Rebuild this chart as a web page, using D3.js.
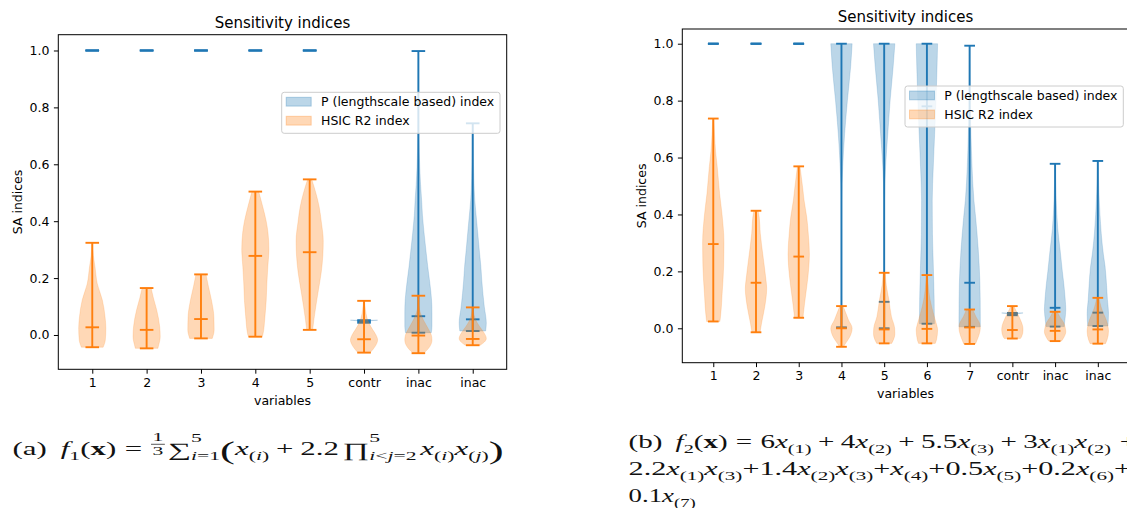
<!DOCTYPE html>
<html>
<head>
<meta charset="utf-8">
<script src="https://cdn.jsdelivr.net/npm/d3@7"></script>
<style>
  body { margin: 0; background: #fff; }
  svg { display: block; }
</style>
</head>
<body>
<svg id="fig" width="1127" height="508"></svg>
<script>
"use strict";

// ---- data ----
var yTicks = [0.0, 0.2, 0.4, 0.6, 0.8, 1.0];
var legendLabels = ["P (lengthscale based) index", "HSIC R2 index"];

var catsA = ["1", "2", "3", "4", "5", "contr", "inac", "inac"];
// [min, mid, max]
var pStatsA = [[1, 1, 1], [1, 1, 1], [1, 1, 1], [1, 1, 1], [1, 1, 1],
    [0.043, 0.048, 0.052], [0.008, 0.066, 0.998], [0.014, 0.055, 0.744]];
// body outline: [value, relative half width]
var pBodyA = [[], [], [], [], [],
    [[0.043, 0.05], [0.048, 0.2], [0.052, 1.0]],
    [[0.008, 0.95], [0.03, 1.0], [0.08, 1.0], [0.123, 0.97], [0.18, 0.85], [0.24, 0.69], [0.3, 0.55],
     [0.358, 0.42], [0.42, 0.3], [0.474, 0.24], [0.53, 0.16], [0.59, 0.1], [0.7, 0.04], [0.85, 0.02], [0.998, 0.01]],
    [[0.014, 0.95], [0.042, 1.0], [0.1, 0.85], [0.19, 0.67], [0.24, 0.6], [0.3, 0.48], [0.358, 0.37],
     [0.42, 0.25], [0.474, 0.15], [0.55, 0.08], [0.65, 0.04], [0.744, 0.02]]];
var hStatsA = [[-0.043, 0.027, 0.324], [-0.047, 0.018, 0.165], [-0.012, 0.056, 0.213], [-0.006, 0.278, 0.504],
    [0.018, 0.291, 0.547], [-0.062, -0.015, 0.12], [-0.064, -0.002, 0.138], [-0.036, -0.014, 0.097]];
var hBodyA = [
    [[-0.043, 0.8], [-0.018, 0.96], [0.024, 1.0], [0.064, 0.94], [0.123, 0.74], [0.18, 0.37], [0.24, 0.2], [0.28, 0.08], [0.324, 0.03]],
    [[-0.047, 0.83], [-0.041, 0.86], [-0.006, 1.0], [0.03, 0.96], [0.088, 0.74], [0.13, 0.5], [0.165, 0.33]],
    [[-0.012, 0.83], [0.018, 0.97], [0.064, 0.95], [0.123, 0.77], [0.17, 0.55], [0.213, 0.37]],
    [[-0.006, 0.5], [0.0, 0.55], [0.06, 0.7], [0.12, 0.8], [0.18, 0.85], [0.24, 0.92], [0.3, 1.0], [0.36, 0.93], [0.40, 0.8], [0.45, 0.55], [0.504, 0.25]],
    [[0.018, 0.22], [0.05, 0.3], [0.1, 0.45], [0.16, 0.65], [0.22, 0.85], [0.28, 0.97], [0.33, 1.0], [0.4, 0.85], [0.45, 0.7], [0.5, 0.45], [0.547, 0.15]],
    [[-0.062, 0.45], [-0.04, 0.82], [-0.018, 1.0], [0.0, 0.88], [0.02, 0.62], [0.04, 0.38], [0.06, 0.22], [0.09, 0.1], [0.12, 0.04]],
    [[-0.064, 0.4], [-0.04, 0.85], [-0.018, 1.0], [0.0, 0.95], [0.02, 0.75], [0.05, 0.4], [0.077, 0.15], [0.1, 0.05], [0.138, 0.02]],
    [[-0.036, 0.55], [-0.025, 0.85], [-0.012, 1.0], [0.01, 0.8], [0.03, 0.5], [0.05, 0.25], [0.07, 0.1], [0.097, 0.03]]];

var catsB = ["1", "2", "3", "4", "5", "6", "7", "contr", "inac", "inac"];
var pStatsB = [[1, 1, 1], [1, 1, 1], [1, 1, 1], [0.002, 0.003, 1.0], [0.0, 0.093, 1.0], [0.016, 0.78, 1.0],
    [0.005, 0.16, 0.993], [0.046, 0.05, 0.054], [0.006, 0.072, 0.578], [0.008, 0.055, 0.588]];
var pBodyB = [[], [], [],
    [[0.002, 0.03], [0.45, 0.02], [0.568, 0.12], [0.685, 0.3], [0.802, 0.56], [0.919, 0.86], [1.0, 1.0]],
    [[0.0, 0.02], [0.45, 0.03], [0.568, 0.13], [0.685, 0.34], [0.802, 0.56], [0.919, 0.84], [1.0, 1.0]],
    [[0.016, 0.7], [0.1, 0.68], [0.22, 0.6], [0.33, 0.52], [0.45, 0.5], [0.57, 0.6], [0.68, 0.72], [0.8, 0.85], [0.92, 0.95], [1.0, 1.0]],
    [[0.005, 1.0], [0.04, 1.0], [0.16, 0.96], [0.28, 0.8], [0.39, 0.56], [0.45, 0.4], [0.57, 0.22], [0.68, 0.12], [0.8, 0.05], [0.993, 0.02]],
    [[0.046, 0.05], [0.05, 0.2], [0.054, 1.0]],
    [[0.006, 0.85], [0.03, 0.92], [0.065, 1.0], [0.1, 0.95], [0.158, 0.81], [0.2, 0.68], [0.275, 0.47], [0.35, 0.25], [0.45, 0.1], [0.578, 0.02]],
    [[0.008, 0.95], [0.053, 1.0], [0.1, 0.9], [0.15, 0.82], [0.217, 0.68], [0.26, 0.52], [0.333, 0.32], [0.4, 0.2], [0.48, 0.1], [0.588, 0.03]]];
var hStatsB = [[0.024, 0.296, 0.737], [-0.014, 0.16, 0.413], [0.037, 0.252, 0.569], [-0.065, 0.0, 0.078],
    [-0.053, -0.004, 0.195], [-0.053, -0.002, 0.187], [-0.055, 0.003, 0.066], [-0.036, -0.006, 0.078],
    [-0.045, -0.009, 0.058], [-0.054, -0.004, 0.107]];
var hBodyB = [
    [[0.024, 0.62], [0.035, 0.66], [0.123, 0.83], [0.217, 0.97], [0.3, 1.0], [0.4, 0.82], [0.474, 0.59], [0.568, 0.37], [0.62, 0.22], [0.68, 0.12], [0.737, 0.05]],
    [[-0.014, 0.38], [0.018, 0.52], [0.076, 0.82], [0.14, 1.0], [0.18, 0.9], [0.25, 0.67], [0.334, 0.4], [0.39, 0.3], [0.413, 0.2]],
    [[0.037, 0.4], [0.053, 0.44], [0.123, 0.67], [0.18, 0.86], [0.26, 1.0], [0.334, 0.89], [0.39, 0.75], [0.45, 0.5], [0.49, 0.38], [0.53, 0.25], [0.569, 0.12]],
    [[-0.065, 0.2], [-0.058, 0.3], [-0.03, 0.78], [0.0, 1.0], [0.03, 0.65], [0.064, 0.3], [0.078, 0.15]],
    [[-0.053, 0.7], [-0.041, 0.86], [-0.02, 1.0], [0.0, 0.98], [0.041, 0.68], [0.1, 0.44], [0.15, 0.2], [0.195, 0.1]],
    [[-0.053, 0.78], [-0.04, 0.9], [-0.006, 1.0], [0.02, 0.85], [0.053, 0.6], [0.1, 0.3], [0.14, 0.15], [0.187, 0.05]],
    [[-0.055, 0.55], [-0.041, 0.7], [-0.02, 0.9], [0.0, 1.0], [0.018, 0.93], [0.04, 0.6], [0.066, 0.3]],
    [[-0.036, 0.75], [-0.03, 0.86], [-0.006, 1.0], [0.01, 0.95], [0.03, 0.75], [0.053, 0.47], [0.065, 0.3], [0.078, 0.15]],
    [[-0.045, 0.6], [-0.03, 0.85], [-0.012, 1.0], [0.0, 0.96], [0.02, 0.8], [0.04, 0.45], [0.058, 0.2]],
    [[-0.054, 0.72], [-0.041, 0.86], [-0.01, 1.0], [0.0, 0.98], [0.03, 0.78], [0.05, 0.55], [0.076, 0.3], [0.107, 0.1]]];

var BLUE = "#1f77b4", ORANGE = "#ff7f0e";
var SANS = "'DejaVu Sans', Verdana, sans-serif";
var SERIF = "'Liberation Serif', 'Times New Roman', serif";

var svg = d3.select("#fig");


function violins( g, x, y, stats, bodies, color ) {
    var hw = 0.25, cap = 0.125;

    bodies.forEach(function( body, i ) {
        if ( !body.length ) return;
        var c = i + 1;
        var area = d3.area().curve(d3.curveMonotoneY)
            .y(function( d ) { return y(d[0]); })
            .x0(function( d ) { return x(c - hw * d[1]); })
            .x1(function( d ) { return x(c + hw * d[1]); });
        g.append('path')
            .attr('d', area(body))
            .attr('fill', color).attr('fill-opacity', 0.3)
            .attr('stroke', color).attr('stroke-opacity', 0.3).attr('stroke-width', 0.6);
    });

    var lines = g.append('g').attr('stroke', color).attr('stroke-width', 1.9).attr('fill', 'none');
    stats.forEach(function( s, i ) {
        var c = i + 1;
        lines.append('line').attr('x1', x(c)).attr('x2', x(c)).attr('y1', y(s[0])).attr('y2', y(s[2]));
        s.forEach(function( v ) {
            lines.append('line').attr('x1', x(c - cap)).attr('x2', x(c + cap)).attr('y1', y(v)).attr('y2', y(v));
        });
    });
}

function legend( g, x0, y0 ) {
    var lg = g.append('g').attr('transform', 'translate(' + x0 + ',' + y0 + ')');
    lg.append('rect').attr('width', 218.3).attr('height', 41).attr('rx', 2.5)
        .attr('fill', '#fff').attr('fill-opacity', 0.8)
        .attr('stroke', '#cccccc').attr('stroke-width', 1);
    [BLUE, ORANGE].forEach(function( col, i ) {
        var cy = 9.4 + i * 19;
        lg.append('rect').attr('x', 4.5).attr('y', cy - 4.4).attr('width', 25).attr('height', 8.8)
            .attr('fill', col).attr('fill-opacity', 0.3)
            .attr('stroke', col).attr('stroke-opacity', 0.3);
        lg.append('text').attr('x', 39.3).attr('y', cy + 4.5)
            .attr('font-family', SANS).attr('font-size', 12.5).attr('fill', '#000')
            .text(legendLabels[i]);
    });
}

function panel( p ) {
    var x = d3.scaleLinear().domain(p.xd).range([p.l, p.r]);
    var y = d3.scaleLinear().domain(p.yd).range([p.b, p.t]);
    var g = svg.append('g');

    violins(g, x, y, p.pStats, p.pBody, BLUE);
    violins(g, x, y, p.hStats, p.hBody, ORANGE);

    var ya = g.append('g').attr('transform', 'translate(' + p.l + ',0)')
        .call(d3.axisLeft(y).tickValues(yTicks).tickFormat(d3.format('.1f')).tickSize(4.4).tickPadding(4.4));
    var xa = g.append('g').attr('transform', 'translate(0,' + p.b + ')')
        .call(d3.axisBottom(x).tickValues(p.cats.map(function( c, i ) { return i + 1; }))
            .tickFormat(function( d ) { return p.cats[d - 1]; }).tickSize(4.4).tickPadding(4.4));
    [ya, xa].forEach(function( a ) {
        a.select('.domain').remove();
        a.selectAll('line').attr('stroke', '#000').attr('stroke-width', 1);
        a.selectAll('text').attr('font-family', SANS).attr('font-size', 12.5).attr('fill', '#000');
    });

    g.append('rect').attr('x', p.l).attr('y', p.t).attr('width', p.r - p.l).attr('height', p.b - p.t)
        .attr('fill', 'none').attr('stroke', '#000').attr('stroke-width', 1);

    var cx = (p.l + p.r) / 2;
    g.append('text').attr('x', cx).attr('y', p.t - 6.6).attr('text-anchor', 'middle')
        .attr('font-family', SANS).attr('font-size', 15).text('Sensitivity indices');
    g.append('text').attr('x', cx).attr('y', p.b + 35.7).attr('text-anchor', 'middle')
        .attr('font-family', SANS).attr('font-size', 12.5).text('variables');
    g.append('text').attr('transform', 'translate(' + (p.l - 36.3) + ',' + ((p.t + p.b) / 2) + ') rotate(-90)')
        .attr('text-anchor', 'middle').attr('font-family', SANS).attr('font-size', 12.5).text('SA indices');

    legend(g, p.legend[0], p.legend[1]);
}

panel({ cats: catsA, pStats: pStatsA, pBody: pBodyA, hStats: hStatsA, hBody: hBodyA,
    xd: [0.375, 8.625], yd: [-0.1206, 1.0555], l: 58.3, r: 506.7, t: 34.7, b: 369.3, legend: [281.7, 92.3] });
panel({ cats: catsB, pStats: pStatsB, pBody: pBodyB, hStats: hStatsB, hBody: hBodyB,
    xd: [0.275, 10.725], yd: [-0.1209, 1.0517], l: 682.3, r: 1128.8, t: 29, b: 362.7, legend: [905, 86] });


// ---- captions: a very small inline math typesetter ----
var FS = 18;

function R( s ) { return { s: s }; }
function I( s ) { return { s: s, st: 'i' }; }
function Bf( s ) { return { s: s, st: 'b' }; }
function sub( s, st ) { return { s: s, st: st, sc: 0.7, dy: 0.3 }; }
function xs( n ) {
    if ( n === 'i' || n === 'j' ) return [I('x'), sub('('), sub(n, 'i'), sub(')')];
    return [I('x'), sub('(' + n + ')')];
}

function tok( g, t, x ) {
    var el = g.append('text').attr('x', x).attr('y', (t.dy || 0) * FS)
        .attr('font-family', SERIF).attr('font-size', FS * (t.sc || 1))
        .attr('font-style', t.st === 'i' ? 'italic' : null)
        .attr('font-weight', t.st === 'b' ? 'bold' : null)
        .attr('fill', '#111')
        .text(t.s);
    return el.node().getComputedTextLength();
}

function typeset( g, items, x0 ) {
    var cx = x0;
    items.forEach(function( it ) {
        if ( typeof it === 'number' ) { cx += it * FS; return; }
        if ( it.frac ) {
            var ng = g.append('g'), dg = g.append('g');
            var wn = tok(ng, { s: it.frac[0], sc: 0.7, dy: -0.8 }, 0);
            var wd = tok(dg, { s: it.frac[1], sc: 0.7, dy: 0.02 }, 0);
            var w = Math.max(wn, wd) + 0.1 * FS;
            ng.attr('transform', 'translate(' + (cx + (w - wn) / 2) + ',0)');
            dg.attr('transform', 'translate(' + (cx + (w - wd) / 2) + ',0)');
            g.append('line').attr('x1', cx).attr('x2', cx + w).attr('y1', -0.6 * FS).attr('y2', -0.6 * FS)
                .attr('stroke', '#111').attr('stroke-width', 0.7);
            cx += w;
            return;
        }
        if ( it.op ) {
            var wo = tok(g, { s: it.op, sc: 1.05, dy: 0.08 }, cx);
            var ws = typeset(g, it.sup.map(function( t ) { return Object.assign({ sc: 0.7 }, t, { dy: -0.7 }); }), cx + wo) - (cx + wo);
            var wb = typeset(g, it.sub, cx + wo) - (cx + wo);
            cx += wo + Math.max(ws, wb);
            return;
        }
        cx += tok(g, it, cx);
    });
    return cx;
}

function caption( items, tail, x0, x1, base ) {
    var g = svg.append('g');
    var w = typeset(g, items, 0);
    typeset(g, tail, w);
    g.attr('transform', 'translate(' + x0 + ',' + base + ') scale(' + ((x1 - x0) / w) + ',1)');
}

var big = function( s ) { return { s: s, sc: 1.45, dy: 0.2 }; };

caption([].concat(
    R('(a)'), 0.45, I('f'), sub('1'), R('('), Bf('x'), R(')'), 0.28, R('='), 0.28,
    { frac: ['1', '3'] }, 0.1,
    { op: '\u2211', sup: [R('5')], sub: [sub('i', 'i'), sub('=1')] },
    big('('), xs('i'), 0.22, R('+'), 0.22, R('2.2'), 0.12,
    { op: '\u220F', sup: [R('5')], sub: [sub('i', 'i'), sub('<'), sub('j', 'i'), sub('=2')] }, 0.12,
    xs('i'), xs('j'), big(')')
), [], 12.5, 503.6, 455);

caption([].concat(
    R('(b)'), 0.45, I('f'), sub('2'), R('('), Bf('x'), R(')'), 0.28, R('='), 0.28,
    R('6'), xs(1), 0.22, R('+'), 0.22, R('4'), xs(2), 0.22, R('+'), 0.22,
    R('5.5'), xs(3), 0.22, R('+'), 0.22, R('3'), xs(1), xs(2)
), [0.3, R('+')], 628.6, 1111, 448);

caption([].concat(
    R('2.2'), xs(1), xs(3), R('+'), R('1.4'), xs(2), xs(3), R('+'), xs(4), R('+'),
    R('0.5'), xs(5), R('+'), R('0.2'), xs(6)
), [R('+')], 628.6, 1114, 475);

caption([].concat(R('0.1'), xs(7)), [], 628.6, 695.8, 501.5);
</script>
</body>
</html>
